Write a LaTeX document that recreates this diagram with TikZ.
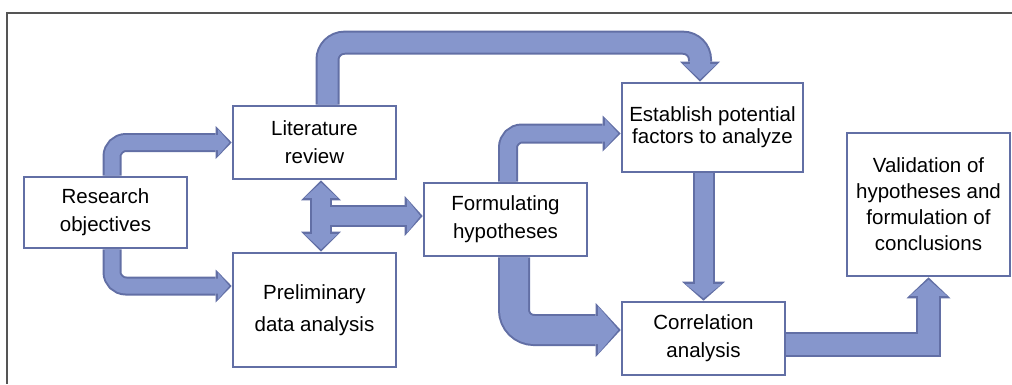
\documentclass[tikz,border=0pt]{standalone}
\usepackage{fontspec}
\setmainfont{Liberation Sans}
\usetikzlibrary{arrows.meta,calc,backgrounds}
\definecolor{flowline}{RGB}{98,111,165}
\definecolor{flowbody}{RGB}{134,150,204}
\definecolor{framegray}{RGB}{85,85,85}

\begin{document}
\begin{tikzpicture}[x=1pt, y=-1pt,
    box/.style={draw=flowline, line width=2.6pt, fill=white, minimum width=163pt, inner sep=0pt, align=center, font=\fontsize{20.5}{28}\selectfont},
    flowedge/.style n args={3}{draw=flowline, line width=#1pt+4pt, shorten >=0pt, -{Triangle[length=#2pt, width=#3pt, line width=0pt]}},
    flowfill/.style n args={3}{draw=flowbody, line width=#1pt, shorten >=2.5pt, -{Triangle[length=#2pt-5pt, width=#3pt-7pt, line width=0pt]}},
    flow/.style n args={3}{preaction={flowedge={#1}{#2}{#3}}, flowfill={#1}{#2}{#3}}]
        \useasboundingbox (0,0) rectangle (1012,384);
        \draw[framegray, line width=1.6pt] (1012,13) -| (7,384);

        % Nodes
        \node (research) [box, minimum height=71pt] at (105.5,212.5) {Research\\objectives};
        \node (lit) [box, minimum height=73pt] at (314.5,142.5) {Literature\\review};
        \node (prelim) [box, minimum height=114pt, font=\fontsize{20.5}{32}\selectfont] at (314.5,310) {Preliminary\\data analysis};
        \node (form) [box, minimum height=73pt] at (505.5,219.5) {Formulating\\hypotheses};
        \node (estab) [box, minimum width=181pt, minimum height=89pt, font=\fontsize{20.5}{22}\selectfont] at (712.5,127.5) {Establish potential\\factors to analyze};
        \node (corr) [box, minimum height=73pt] at (703.5,338.5) {Correlation\\analysis};
        \node (valid) [box, minimum height=143pt, font=\fontsize{20.5}{26}\selectfont] at (928.5,204.5) {Validation of\\hypotheses and\\formulation of\\conclusions};
        \coordinate (hub) at ($(lit.south)!0.5!(prelim.north)+(6.5,0)$);

        % Edges
        \begin{scope}[on background layer, rounded corners=14pt]
        \draw[flow={15}{16}{33}] ($(research.north)+(6.5,0)$) |- (lit.west);
        \draw[flow={15}{16}{33}] ($(research.south)+(6.5,0)$) |- ($(prelim.west)+(0,-24)$);
        \draw[flow={20}{20}{40}, rounded corners=17pt] ($(lit.north)+(13,0)$) |- ($(estab.north)+(-12.5,-39)$) -- ($(estab.north)+(-12.5,0)$);
        \draw[flow={16}{18}{36}] ($(form.north)+(2.5,0)$) |- ($(estab.west)+(0,6)$);
        \draw[flow={28}{25}{54}, rounded corners=20pt] ($(form.south)+(8.5,0)$) |- ($(corr.west)+(0,-8.5)$);
        \draw[flow={18}{19}{43}] (estab.south -| corr.north) -- (corr.north);
        \draw[flow={21}{21}{44}, sharp corners] ($(corr.east)+(0,5.5)$) -| (valid.south);
        % hub: borders first, then bodies
        \draw[flowedge={18}{20}{40}] (hub) -- (lit.south -| hub);
        \draw[flowedge={18}{20}{40}] (hub) -- (prelim.north -| hub);
        \draw[flowedge={18}{18}{40}] (hub) -- (hub -| form.west);
        \draw[flowfill={18}{20}{40}] (hub) -- (lit.south -| hub);
        \draw[flowfill={18}{20}{40}] (hub) -- (prelim.north -| hub);
        \draw[flowfill={18}{18}{40}] (hub) -- (hub -| form.west);
        \end{scope}
    \end{tikzpicture}
\end{document}
